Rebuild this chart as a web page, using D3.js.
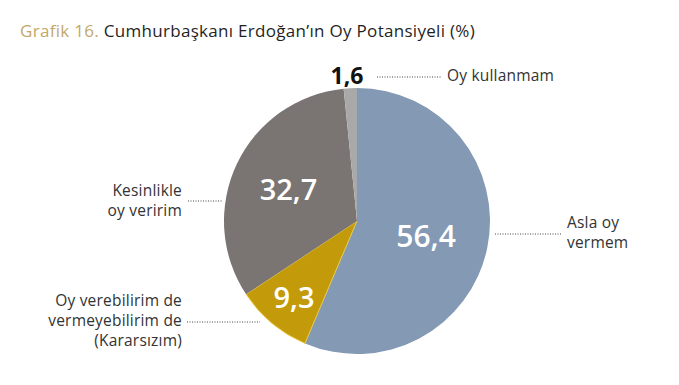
<!DOCTYPE html>
<html>
<head>
<meta charset="utf-8">
<script src="https://cdn.jsdelivr.net/npm/d3@7"></script>
<style>
  body { margin: 0; background: #fff; }
  text { font-family: "Open Sans", Lato, sans-serif; }
</style>
</head>
<body>
<div id="chart"></div>
<script>
// chart data
const categories = ["Asla oy vermem", "Kararsızım", "Kesinlikle oy veririm", "Oy kullanmam"];
const values = [56.4, 9.3, 32.7, 1.6];
const valueLabels = ["56,4", "9,3", "32,7", "1,6"];
const colors = ["#8399b4", "#c39a0a", "#7a7573", "#a9a9a9"];

const width = 679, height = 385;
const cx = 357, cy = 221, radius = 133;

const svg = d3.select("#chart")
  .append("svg")
    .attr("width", width)
    .attr("height", height);

// title
const title = svg.append("text")
  .attr("x", 20)
  .attr("y", 37)
  .style("font-size", "17px")
  .style("letter-spacing", "0.3px");
title.append("tspan").style("fill", "#c2a86a").text("Grafik 16. ");
title.append("tspan").style("fill", "#1f1f1f").text("Cumhurbaşkanı Erdoğan’ın Oy Potansiyeli (%)");

const pie = d3.pie().sort(null).value(d => d);
const arcs = pie(values);
const arc = d3.arc().innerRadius(0).outerRadius(radius);

const g = svg.append("g")
  .attr("transform", `translate(${cx}, ${cy})`);

g.selectAll("path")
  .data(arcs)
  .join("path")
    .attr("d", arc)
    .style("fill", (d, i) => colors[i])
    .style("stroke", (d, i) => i == 1 ? "#f3d24a" : "none")
    .style("stroke-width", 0.8);

// value labels inside slices
const inside = [
  {i: 0, r: 0.53, size: 30},
  {i: 1, r: 0.74, size: 29},
  {i: 2, r: 0.57, size: 29}
];
inside.forEach(function(o) {
  const a = arcs[o.i];
  const mid = (a.startAngle + a.endAngle) / 2;
  g.append("text")
    .attr("x", Math.sin(mid) * radius * o.r)
    .attr("y", -Math.cos(mid) * radius * o.r)
    .attr("text-anchor", "middle")
    .attr("dominant-baseline", "central")
    .style("font-size", o.size + "px")
    .style("font-weight", 600)
    .style("fill", "#ffffff")
    .text(valueLabels[o.i]);
});

// small slice value above the pie
svg.append("text")
  .attr("x", 347)
  .attr("y", 84)
  .attr("text-anchor", "middle")
  .style("font-size", "23px")
  .style("font-weight", "bold")
  .style("fill", "#111")
  .text(valueLabels[3]);

// leader lines and category labels
const leaders = [
  {x1: 495, x2: 562, y: 234},
  {x1: 187, x2: 260, y: 322},
  {x1: 188, x2: 222, y: 201},
  {x1: 377, x2: 442, y: 77}
];
const labelLines = [
  {x: 567, anchor: "start", y: [228, 248], lines: ["Asla oy", "vermem"]},
  {x: 182, anchor: "end", y: [306, 326, 346], lines: ["Oy verebilirim de", "vermeyebilirim de", "(Kararsızım)"]},
  {x: 182, anchor: "end", y: [196, 216], lines: ["Kesinlikle", "oy veririm"]},
  {x: 447, anchor: "start", y: [81], lines: ["Oy kullanmam"]}
];

leaders.forEach(function(l) {
  svg.append("line")
    .attr("x1", l.x1).attr("x2", l.x2)
    .attr("y1", l.y).attr("y2", l.y)
    .style("stroke", "#444")
    .style("stroke-width", 1)
    .style("stroke-dasharray", "1,1.5");
});

labelLines.forEach(function(lb) {
  lb.lines.forEach(function(t, k) {
    svg.append("text")
      .attr("x", lb.x)
      .attr("y", lb.y[k])
      .attr("text-anchor", lb.anchor)
      .style("font-size", "15.5px")
      .style("letter-spacing", "0.2px")
      .style("fill", "#333")
      .text(t);
  });
});
</script>
</body>
</html>
